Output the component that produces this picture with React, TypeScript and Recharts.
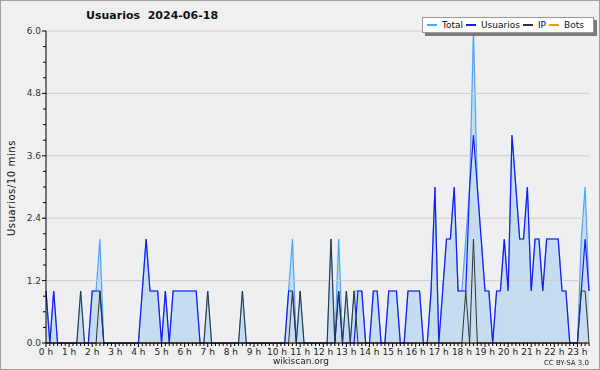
import { ComposedChart, Area, Line, XAxis, YAxis, CartesianGrid, ReferenceLine } from 'recharts';

// 10-minute slots, one row per hour
const total = [
  1, 0, 1, 0, 0, 0,
  0, 0, 0, 1, 0, 0,
  1, 1, 2, 0, 0, 0,
  0, 0, 0, 0, 0, 0,
  0, 1, 2, 1, 1, 1,
  0, 1, 0, 1, 1, 1,
  1, 1, 1, 1, 0, 0,
  1, 0, 0, 0, 0, 0,
  0, 0, 0, 1, 0, 0,
  0, 0, 0, 0, 0, 0,
  0, 0, 0, 1, 2, 0,
  1, 0, 0, 0, 0, 0,
  0, 0, 2, 0, 2, 0,
  1, 0, 1, 1, 1, 0,
  0, 1, 1, 0, 0, 1,
  1, 1, 0, 0, 1, 1,
  1, 1, 0, 0, 1, 3,
  0, 1, 2, 2, 3, 1,
  1, 2, 3, 6, 3, 2,
  1, 1, 0, 1, 1, 2,
  1, 4, 3, 2, 2, 3,
  1, 2, 2, 1, 2, 2,
  2, 2, 1, 1, 0, 0,
  0, 2, 3, 1,
];

const usuarios = [
  1, 0, 1, 0, 0, 0,
  0, 0, 0, 0, 0, 0,
  1, 1, 1, 0, 0, 0,
  0, 0, 0, 0, 0, 0,
  0, 1, 2, 1, 1, 1,
  0, 1, 0, 1, 1, 1,
  1, 1, 1, 1, 0, 0,
  0, 0, 0, 0, 0, 0,
  0, 0, 0, 0, 0, 0,
  0, 0, 0, 0, 0, 0,
  0, 0, 0, 1, 1, 0,
  0, 0, 0, 0, 0, 0,
  0, 0, 0, 0, 1, 0,
  0, 0, 0, 1, 1, 0,
  0, 1, 1, 0, 0, 1,
  1, 1, 0, 0, 1, 1,
  1, 1, 0, 0, 1, 3,
  0, 1, 2, 2, 3, 1,
  1, 1, 3, 4, 3, 2,
  1, 1, 0, 1, 1, 2,
  1, 4, 3, 2, 2, 3,
  1, 2, 2, 1, 2, 2,
  2, 2, 1, 1, 0, 0,
  0, 1, 2, 1,
];

const ip = [
  0, 0, 0, 0, 0, 0,
  0, 0, 0, 1, 0, 0,
  0, 0, 1, 0, 0, 0,
  0, 0, 0, 0, 0, 0,
  0, 0, 0, 0, 0, 0,
  0, 0, 0, 0, 0, 0,
  0, 0, 0, 0, 0, 0,
  1, 0, 0, 0, 0, 0,
  0, 0, 0, 1, 0, 0,
  0, 0, 0, 0, 0, 0,
  0, 0, 0, 0, 1, 0,
  1, 0, 0, 0, 0, 0,
  0, 0, 2, 0, 1, 0,
  1, 0, 1, 0, 0, 0,
  0, 0, 0, 0, 0, 0,
  0, 0, 0, 0, 0, 0,
  0, 0, 0, 0, 0, 0,
  0, 0, 0, 0, 0, 0,
  0, 1, 0, 2, 0, 0,
  0, 0, 0, 0, 0, 0,
  0, 0, 0, 0, 0, 0,
  0, 0, 0, 0, 0, 0,
  0, 0, 0, 0, 0, 0,
  0, 1, 1, 0,
];

const bots = [
  0, 0, 0, 0, 0, 0, 0, 0, 0, 0, 0, 0,
  0, 0, 0, 0, 0, 0, 0, 0, 0, 0, 0, 0,
  0, 0, 0, 0, 0, 0, 0, 0, 0, 0, 0, 0,
  0, 0, 0, 0, 0, 0, 0, 0, 0, 0, 0, 0,
  0, 0, 0, 0, 0, 0, 0, 0, 0, 0, 0, 0,
  0, 0, 0, 0, 0, 0, 0, 0, 0, 0, 0, 0,
  0, 0, 0, 0, 0, 0, 0, 0, 0, 0, 0, 0,
  0, 0, 0, 0, 0, 0, 0, 0, 0, 0, 0, 0,
  0, 0, 0, 0, 0, 0, 0, 0, 0, 0, 0, 0,
  0, 0, 0, 0, 0, 0, 0, 0, 0, 0, 0, 0,
  0, 0, 0, 0, 0, 0, 0, 0, 0, 0, 0, 0,
  0, 0, 0, 0, 0, 0, 0, 0, 0, 0,
];

const yTicks = [0, 0.3, 0.6, 0.9, 1.2, 1.5, 1.8, 2.1, 2.4, 2.7, 3.0, 3.3, 3.6, 3.9, 4.2, 4.5, 4.8, 5.1, 5.4, 5.7, 6.0];
const gridValues = [1.2, 2.4, 3.6, 4.8, 6.0];

const data = total.map((t, i) => ({
  i,
  total: t,
  usuarios: usuarios[i],
  ip: ip[i],
  bots: bots[i],
}));

const xTicks = data.map((d) => d.i);
const font = '"DejaVu Sans", sans-serif';

const XTick = (props: any) => {
  const { x, y, payload } = props;
  const hour = payload.value % 6 === 0;
  return (
    <g>
      <line x1={x} x2={x} y1={y} y2={y + (hour ? 4 : 3)} stroke="#000" strokeWidth={1} />
      {hour && (
        <text x={x} y={y + 12} textAnchor="middle" fontSize={9} fontFamily={font} fill="#222">
          {`${payload.value / 6} h`}
        </text>
      )}
    </g>
  );
};

const YTick = (props: any) => {
  const { x, y, payload, index } = props;
  const major = index % 4 === 0;
  return (
    <g>
      <line x1={x - (major ? 4 : 3)} x2={x} y1={y} y2={y} stroke="#000" strokeWidth={1} />
      {major && (
        <text x={x - 5} y={y + 3} textAnchor="end" fontSize={9} fontFamily={font} fill="#333">
          {payload.value.toFixed(1)}
        </text>
      )}
    </g>
  );
};

const legendItems = [
  { name: 'Total', color: '#4da6f5' },
  { name: 'Usuarios', color: '#1a1aff' },
  { name: 'IP', color: '#333' },
  { name: 'Bots', color: '#ff9900' },
];

export default function App() {
  return (
    <div
      style={{
        position: 'fixed',
        left: 0,
        top: 0,
        width: 600,
        height: 370,
        boxSizing: 'border-box',
        border: '1px solid #a0a0a0',
        background: '#f0f0f0',
        fontFamily: font,
      }}
    >
      <div style={{ position: 'absolute', left: -1, top: -1 }}>
        <ComposedChart
          width={600}
          height={370}
          data={data}
          margin={{ top: 31, right: 11, bottom: 0, left: 0 }}
        >
          <CartesianGrid fill="#eeeff1" stroke="none" horizontal={false} vertical={false} />
          {gridValues.map((v) => (
            <ReferenceLine key={v} y={v} stroke="#cccccc" strokeWidth={1} />
          ))}
          <XAxis
            dataKey="i"
            type="number"
            domain={[0, 141]}
            ticks={xTicks}
            interval={0}
            height={27}
            tickSize={0}
            tickMargin={0}
            axisLine={{ stroke: '#000' }}
            tick={<XTick />}
          />
          <YAxis
            domain={[0, 6]}
            ticks={yTicks}
            interval={0}
            width={46}
            tickSize={0}
            tickMargin={0}
            axisLine={{ stroke: '#000' }}
            tick={<YTick />}
          />
          <Line
            dataKey="bots"
            stroke="#ff9900"
            strokeWidth={1}
            dot={false}
            type="linear"
            isAnimationActive={false}
          />
          <Area
            dataKey="total"
            type="linear"
            stroke="#4da6f5"
            strokeWidth={1.2}
            fill="#c6dcf0"
            fillOpacity={1}
            isAnimationActive={false}
          />
          <Line
            dataKey="usuarios"
            type="linear"
            stroke="#1a1aff"
            strokeWidth={1.2}
            dot={false}
            isAnimationActive={false}
          />
          <Line
            dataKey="ip"
            type="linear"
            stroke="#333333"
            strokeWidth={1}
            dot={false}
            isAnimationActive={false}
          />
        </ComposedChart>
      </div>

      <div
        style={{
          position: 'absolute',
          left: 85,
          top: 8,
          fontSize: 11,
          fontWeight: 'bold',
          color: '#111',
          whiteSpace: 'pre',
        }}
      >
        {'Usuarios  2024-06-18'}
      </div>

      <div
        style={{
          position: 'absolute',
          left: 10,
          top: 187,
          fontSize: 10,
          letterSpacing: 0.6,
          color: '#111',
          transform: 'translate(-50%, -50%) rotate(-90deg)',
          whiteSpace: 'nowrap',
        }}
      >
        Usuarios/10 mins
      </div>

      <div
        style={{
          position: 'absolute',
          left: 421,
          top: 16,
          width: 166,
          height: 14,
          background: '#fff',
          border: '1px solid #999',
          boxShadow: '3px 3px 0 #7a7a7a',
          display: 'flex',
          alignItems: 'center',
          paddingLeft: 4,
          fontSize: 9,
          color: '#111',
          whiteSpace: 'nowrap',
        }}
      >
        {legendItems.map((it) => (
          <span key={it.name} style={{ display: 'flex', alignItems: 'center', marginRight: 3 }}>
            <span style={{ display: 'inline-block', width: 10, height: 1.5, background: it.color, marginRight: 5 }} />
            {it.name}
          </span>
        ))}
      </div>

      <div
        style={{
          position: 'absolute',
          left: 0,
          width: 600,
          top: 355,
          textAlign: 'center',
          fontSize: 9,
          color: '#222',
        }}
      >
        wikiscan.org
      </div>
      <div
        style={{
          position: 'absolute',
          right: 10,
          top: 358,
          fontSize: 7,
          color: '#222',
        }}
      >
        CC BY-SA 3.0
      </div>
    </div>
  );
}
